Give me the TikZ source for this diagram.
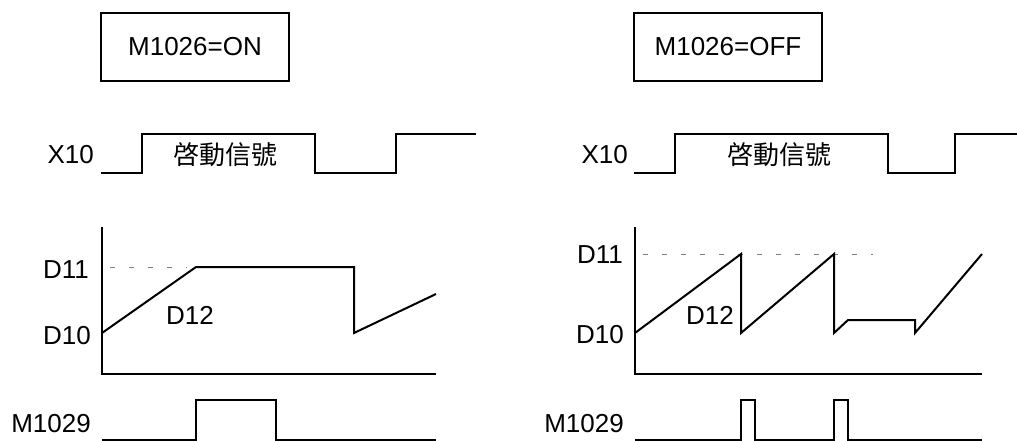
\documentclass[tikz,border=0pt]{standalone}
\usepackage{fontspec}
\setmainfont{Liberation Sans}
\newfontfamily\cjk{Noto Sans CJK TC}
\usetikzlibrary{positioning}

\begin{document}
\begin{tikzpicture}[
  x=1pt,y=-1pt,
  font=\fontsize{26}{30}\selectfont,
  wave/.style={line width=2pt,line join=miter},
  lvl/.style={gray,line width=1pt,dash pattern=on 5pt off 14pt,dash phase=-8pt},
  tag/.style={anchor=base east,inner sep=0pt},
  modebox/.style={draw,line width=1.8pt,minimum width=188pt,minimum height=68pt}
]
\useasboundingbox (0,0) rectangle (1017,441);
% M1026 = ON
\node[modebox] (onbox) at (195,47) {M1026=ON};
\node[tag] (xon) at (94,164) {X10};
\draw[wave] (101,173) -- (142,173) -- (142,134) -- (315,134) -- (315,173)
  -- (396,173) -- (396,134) -- (476,134);
\node (starton) at (225,155) {\cjk 啓動信號};
\node[tag] (hion) at (89,278) {D11};
\node[tag] (loon) at (91,344) {D10};
\draw[lvl] (102,267) -- (187,267);
\draw[wave] (102,227) |- (436,374);
\draw[wave] (102,333) -- (196,267) -- (354,267) -- (354,333) -- (436,294);
\node[tag] (curon) at (214,324) {D12};
\node[tag] (mon) at (91,432) {M1029};
\draw[wave] (102,440) -- (196,440) -- (196,400) -- (276,400) -- (276,440) -- (436,440);
% M1026 = OFF
\node[modebox] (offbox) at (728,47) {M1026=OFF};
\node[tag] (xoff) at (628,164) {X10};
\draw[wave] (634,173) -- (675,173) -- (675,134) -- (888,134) -- (888,173)
  -- (955,173) -- (955,134) -- (1017,134);
\node (startoff) at (779,155) {\cjk 啓動信號};
\node[tag] (hioff) at (623,263) {D11};
\node[tag] (looff) at (624,343) {D10};
\draw[lvl] (635,254) -- (873,254);
\draw[wave] (635,227) |- (982,374);
\draw[wave] (635,333) -- (741,254) -- (741,333) -- (834,254) -- (834,333) -- (848,320)
  -- (915,320) -- (915,333) -- (982,254);
\node[tag] (curoff) at (734,324) {D12};
\node[tag] (moff) at (624,432) {M1029};
\draw[wave] (635,440) -- (741,440) -- (741,400) -- (755,400) -- (755,440) -- (834,440)
  -- (834,400) -- (848,400) -- (848,440) -- (982,440);
\end{tikzpicture}
\end{document}
